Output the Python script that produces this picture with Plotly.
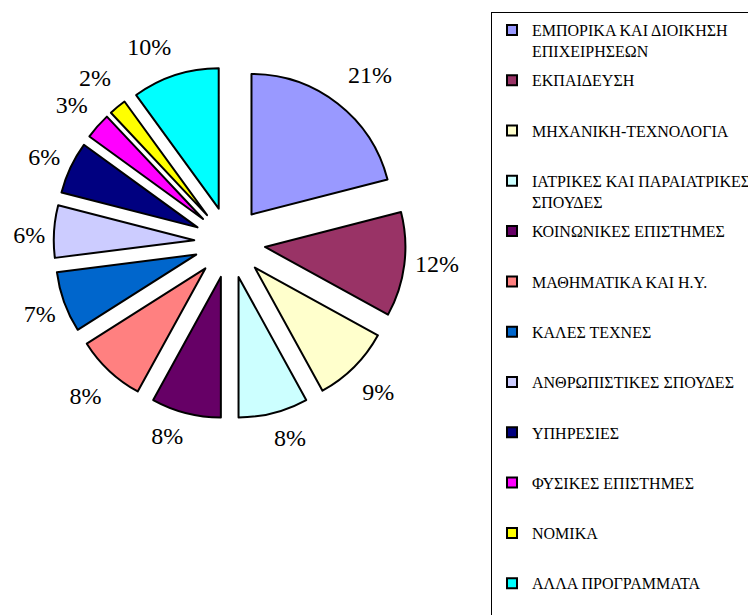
import plotly.graph_objects as go

categories = [
    "ΕΜΠΟΡΙΚΑ ΚΑΙ ΔΙΟΙΚΗΣΗ<br>ΕΠΙΧΕΙΡΗΣΕΩΝ",
    "ΕΚΠΑΙΔΕΥΣΗ",
    "ΜΗΧΑΝΙΚΗ-ΤΕΧΝΟΛΟΓΙΑ",
    "ΙΑΤΡΙΚΕΣ ΚΑΙ ΠΑΡΑΙΑΤΡΙΚΕΣ<br>ΣΠΟΥΔΕΣ",
    "ΚΟΙΝΩΝΙΚΕΣ ΕΠΙΣΤΗΜΕΣ",
    "ΜΑΘΗΜΑΤΙΚΑ ΚΑΙ Η.Υ.",
    "ΚΑΛΕΣ ΤΕΧΝΕΣ",
    "ΑΝΘΡΩΠΙΣΤΙΚΕΣ ΣΠΟΥΔΕΣ",
    "ΥΠΗΡΕΣΙΕΣ",
    "ΦΥΣΙΚΕΣ ΕΠΙΣΤΗΜΕΣ",
    "ΝΟΜΙΚΑ",
    "ΑΛΛΑ ΠΡΟΓΡΑΜΜΑΤΑ",
]
shares = [21, 12, 9, 8, 8, 8, 7, 6, 6, 3, 2, 10]
colors = [
    "#9999FF", "#993366", "#FFFFCC", "#CCFFFF", "#660066", "#FF8080",
    "#0066CC", "#CCCCFF", "#000080", "#FF00FF", "#FFFF00", "#00FFFF",
]
# style: radius (px) of the invisible ring each percentage label sits on,
# and a small angular nudge (deg, clockwise) of that ring
label_ring = [194, 180, 190, 187, 185, 190, 181.5, 178, 183, 188.5, 192, 191]
label_turn = [-2.6, -0.5, 3.4, 2.7, -1.9, -3.4, -2.8, -1.1, 1.8, 2.7, 3.8, 2.2]

W, H = 756, 615
OFF = 8  # page body margin
FONT = "Liberation Serif"


def xdom(a, b):
    return [(a - OFF) / W, (b - OFF) / W]


def ydom(top, bottom):
    return [1 - (bottom - OFF) / H, 1 - (top - OFF) / H]


CX, CY = 229.7, 242.5
R_OUT = 176

fig = go.Figure()

# main exploded pie
fig.add_trace(go.Pie(
    labels=categories, values=shares, sort=False, direction="clockwise",
    rotation=0, pull=[0.253] * len(shares),
    marker=dict(colors=colors, line=dict(color="black", width=2)),
    textinfo="none", hoverinfo="skip", showlegend=False,
    domain=dict(x=xdom(CX - R_OUT, CX + R_OUT), y=ydom(CY - R_OUT, CY + R_OUT)),
))

# transparent pies carrying the percentage labels further out
for k, v in enumerate(shares):
    ring = label_ring[k]
    texts = [f"{s}%" if i == k else "" for i, s in enumerate(shares)]
    fig.add_trace(go.Pie(
        labels=categories, values=shares, sort=False, direction="clockwise",
        rotation=label_turn[k],
        marker=dict(colors=["rgba(0,0,0,0)"] * len(shares), line=dict(width=0)),
        text=texts, textinfo="text", textposition="outside",
        textfont=dict(family=FONT, size=24, color="black"),
        outsidetextfont=dict(family=FONT, size=24, color="black"),
        hoverinfo="skip", showlegend=False,
        domain=dict(x=xdom(CX - ring, CX + ring), y=ydom(CY - ring, CY + ring)),
    ))

# legend entries
for i, (cat, col) in enumerate(zip(categories, colors)):
    name = cat if "<br>" in cat else cat + "<br> "
    fig.add_trace(go.Scatter(
        x=[None], y=[None], mode="markers", name=name,
        legendgroup=f"g{i}",
        marker=dict(symbol="square", size=10, color=col,
                    line=dict(color="black", width=2)),
        hoverinfo="skip",
    ))

LEG_FS = 16
item_h = 2 * 1.3 * LEG_FS + 3

fig.update_layout(
    width=W, height=H,
    margin=dict(l=0, r=0, t=0, b=0, autoexpand=False),
    paper_bgcolor="white", plot_bgcolor="white",
    xaxis=dict(visible=False), yaxis=dict(visible=False),
    font=dict(family=FONT, color="black"),
    showlegend=True,
    legend=dict(
        x=(491 - OFF) / W, y=1 - (12 - OFF) / H, xanchor="left", yanchor="top",
        bordercolor="black", borderwidth=1, bgcolor="white",
        font=dict(family=FONT, size=LEG_FS, color="black"),
        tracegroupgap=50.3 - item_h, valign="top", traceorder="grouped",
    ),
)

fig.write_html("out.html")
